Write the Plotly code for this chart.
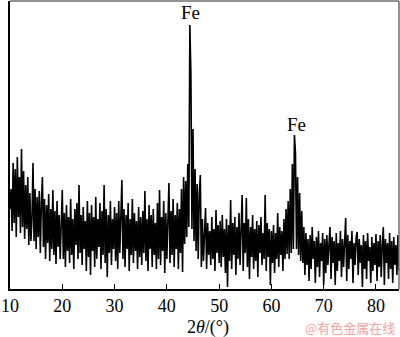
import plotly.graph_objects as go

# XRD scan: 2theta starts at 10.0 deg, step 0.2 deg
START = 10.0
STEP = 0.2

# Intensity (arb. units), each row = one degree (x.0, x.2, x.4, x.6, x.8)
int_10_20 = [
    80, 100, 58, 126, 66,    # 10
    120, 52, 132, 72, 112,   # 11
    56, 140, 62, 118, 50,    # 12
    104, 60, 112, 44, 96,    # 13
    48, 70, 126, 48, 100,    # 14
    40, 92, 52, 98, 36,      # 15
    86, 112, 42, 90, 30,     # 16
    84, 46, 95, 28, 80,      # 17
    40, 99, 34, 78, 25,      # 18
    88, 42, 74, 30, 82,      # 19
]
int_20_30 = [
    99, 30, 76, 22, 84,      # 20
    38, 72, 26, 90, 34,      # 21
    70, 20, 80, 44, 86,      # 22
    30, 104, 36, 74, 24,     # 23
    82, 40, 68, 18, 88,      # 24
    32, 76, 14, 84, 38,      # 25
    72, 22, 92, 30, 70,      # 26
    42, 86, 20, 78, 34,      # 27
    104, 26, 80, 12, 74,     # 28
    36, 88, 24, 70, 40,      # 29
]
int_30_40 = [
    82, 28, 76, 20, 88,      # 30
    36, 72, 109, 30, 80,     # 31
    22, 74, 40, 86, 18,      # 32
    70, 34, 90, 26, 76,      # 33
    38, 68, 20, 82, 32,      # 34
    72, 24, 78, 36, 98,      # 35
    28, 70, 18, 84, 40,      # 36
    74, 22, 80, 34, 66,      # 37
    20, 86, 30, 99, 24,      # 38
    72, 38, 88, 16, 76,      # 39
]
int_40_50 = [
    30, 82, 106, 26, 78,     # 40
    34, 90, 22, 74, 40,      # 41
    86, 20, 80, 36, 100,     # 42
    17, 112, 45, 108, 52,    # 43
    125, 62, 264, 215, 60,   # 44  Fe(110)
    160, 48, 120, 38, 105,   # 45
    30, 95, 114, 22, 70,     # 46
    28, 62, 81, 20, 66,      # 47
    34, 58, 24, 72, 30,      # 48
    60, 18, 79, 36, 64,      # 49
]
int_50_60 = [
    26, 68, 22, 74, 32,      # 50
    60, 16, 70, 2, 64,       # 51
    28, 89, 20, 66, 34,      # 52
    72, 14, 62, 30, 76,      # 53
    24, 58, 94, 18, 66,      # 54
    36, 91, 22, 70, 10,      # 55
    62, 32, 74, 20, 60,      # 56
    28, 68, 12, 64, 36,      # 57
    72, 24, 56, 30, 94,      # 58
    18, 66, 32, 60, 4,       # 59
]
int_60_70 = [
    58, 26, 64, 16, 56,      # 60
    30, 76, 22, 62, 34,      # 61
    58, 18, 70, 30, 80,      # 62
    35, 88, 30, 100, 36,     # 63
    125, 40, 154, 136, 40,   # 64  Fe(200)
    112, 34, 96, 28, 78,     # 65
    26, 62, 14, 56, 24,      # 66
    50, 8, 54, 20, 62,       # 67
    30, 48, 6, 52, 22,       # 68
    58, 12, 46, 28, 56,      # 69
]
int_70_80 = [
    4, 50, 16, 54, 24,       # 70
    44, 62, 10, 52, 26,      # 71
    48, 4, 56, 18, 46,       # 72
    28, 58, 12, 50, 22,      # 73
    44, 71, 8, 54, 20,       # 74
    48, 30, 58, 6, 46,       # 75
    24, 52, 57, 14, 50,      # 76
    26, 44, 2, 54, 20,       # 77
    48, 10, 56, 28, 42,      # 78
    6, 52, 18, 46, 24,       # 79
]
int_80_85 = [
    55, 8, 48, 22, 54,       # 80
    12, 44, 62, 4, 50,       # 81
    26, 46, 10, 56, 20,      # 82
    48, 6, 52, 24, 44,       # 83
    14, 54, 18, 46, 30,      # 84
]

intensity = (int_10_20 + int_20_30 + int_30_40 + int_40_50 +
             int_50_60 + int_60_70 + int_70_80 + int_80_85)
two_theta = [round(START + STEP * i, 1) for i in range(len(intensity))]

tick_vals = [10, 20, 30, 40, 50, 60, 70, 80]
peak_labels = ["Fe", "Fe"]
peak_pos = [44.5, 64.7]
peak_label_y = [277, 165]

SERIF = "Liberation Serif, Times New Roman, serif"

fig = go.Figure()
fig.add_trace(go.Scatter(
    x=two_theta, y=intensity, mode="lines",
    line=dict(color="black", width=1.6),
    hoverinfo="skip", showlegend=False,
))

for txt, px, py in zip(peak_labels, peak_pos, peak_label_y):
    fig.add_annotation(x=px, y=py, xref="x", yref="y", text=txt,
                       showarrow=False, yanchor="middle",
                       font=dict(family=SERIF, size=19, color="black"))

fig.add_annotation(x=0.509, y=-0.132, xref="paper", yref="paper",
                   text="2<i>θ</i>/(°)", showarrow=False,
                   xanchor="center", yanchor="middle",
                   font=dict(family=SERIF, size=18, color="black"))
fig.add_annotation(x=0.875, y=-0.135, xref="paper", yref="paper",
                   text="@有色金属在线", showarrow=False,
                   xanchor="center", yanchor="middle",
                   font=dict(family="Noto Sans CJK SC", size=13,
                             color="rgb(242,165,165)"))

fig.update_layout(
    width=400, height=337,
    margin=dict(l=8, r=1, t=1, b=48),
    paper_bgcolor="white", plot_bgcolor="white",
    showlegend=False,
    xaxis=dict(range=[10, 84.4], tickvals=tick_vals, ticks="inside",
               ticklen=5, tickwidth=1, tickcolor="black",
               ticklabeloverflow="allow",
               showline=True, linecolor="black", linewidth=1.5,
               showgrid=False, zeroline=False,
               tickfont=dict(family=SERIF, size=18, color="black")),
    yaxis=dict(range=[0, 288], showticklabels=False, ticks="",
               showline=True, linecolor="black", linewidth=2,
               showgrid=False, zeroline=False),
    shapes=[
        dict(type="line", xref="paper", yref="paper", x0=0, x1=1, y0=1, y1=1,
             line=dict(color="rgb(110,110,110)", width=1.5)),
        dict(type="line", xref="paper", yref="paper", x0=1, x1=1, y0=0, y1=1,
             line=dict(color="rgb(110,110,110)", width=1.5)),
    ],
)

fig.write_html("out.html")
